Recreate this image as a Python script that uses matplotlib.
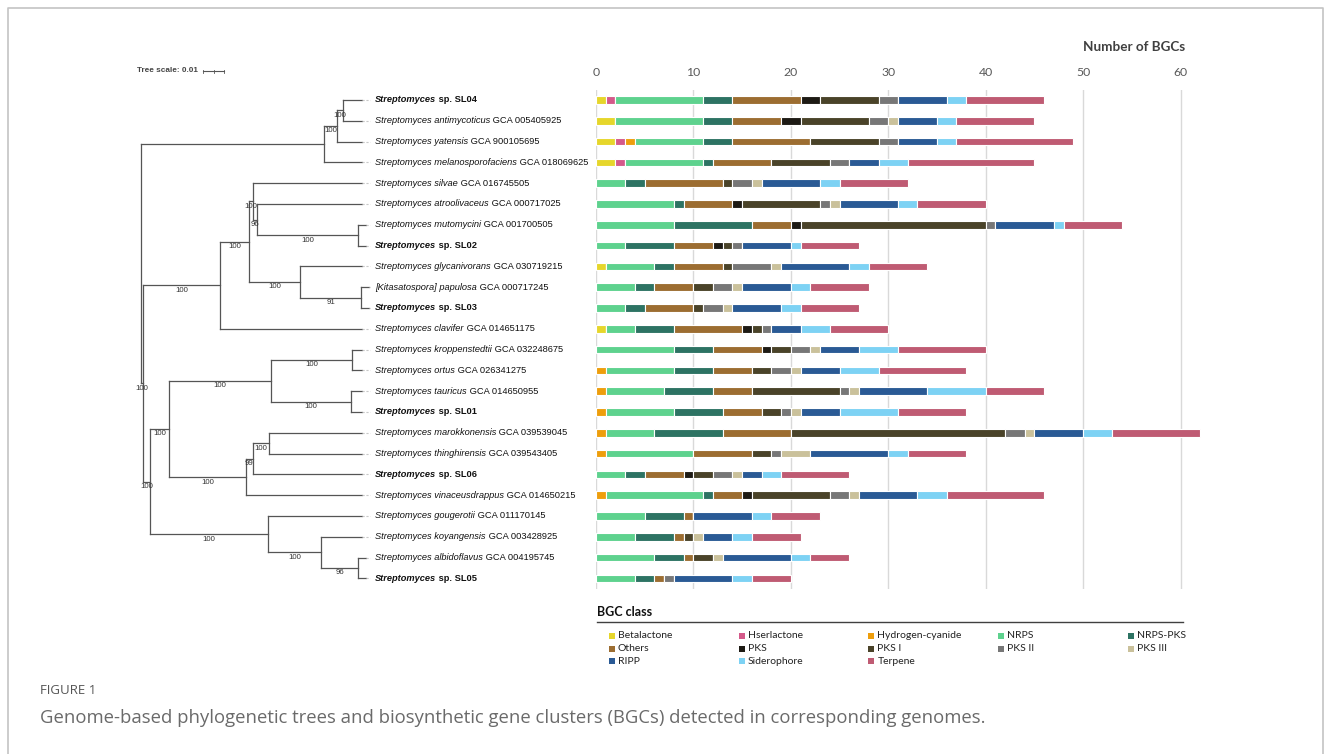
import numpy as np
import matplotlib
matplotlib.use("Agg")
from matplotlib import pyplot as plt

# ============= data =============

classes = ['Betalactone', 'Hserlactone', 'Hydrogen-cyanide', 'NRPS', 'NRPS-PKS',
           'Others', 'PKS', 'PKS I', 'PKS II', 'PKS III', 'RIPP', 'Siderophore', 'Terpene']
class_colors = ['#E6D62B', '#D4598A', '#EE9E0C', '#5ED28E', '#2D7363',
                '#9C6D31', '#1D1A14', '#4A4329', '#777777', '#CAC19B',
                '#2A5A95', '#7DD2F4', '#BF5B73']

# species label: (italic part, plain part, is our isolate)
species = [
    ('Streptomyces', 'sp. SL04', True),
    ('Streptomyces antimycoticus', 'GCA 005405925', False),
    ('Streptomyces yatensis', 'GCA 900105695', False),
    ('Streptomyces melanosporofaciens', 'GCA 018069625', False),
    ('Streptomyces silvae', 'GCA 016745505', False),
    ('Streptomyces atroolivaceus', 'GCA 000717025', False),
    ('Streptomyces mutomycini', 'GCA 001700505', False),
    ('Streptomyces', 'sp. SL02', True),
    ('Streptomyces glycanivorans', 'GCA 030719215', False),
    ('[Kitasatospora] papulosa', 'GCA 000717245', False),
    ('Streptomyces', 'sp. SL03', True),
    ('Streptomyces clavifer', 'GCA 014651175', False),
    ('Streptomyces kroppenstedtii', 'GCA 032248675', False),
    ('Streptomyces ortus', 'GCA 026341275', False),
    ('Streptomyces tauricus', 'GCA 014650955', False),
    ('Streptomyces', 'sp. SL01', True),
    ('Streptomyces marokkonensis', 'GCA 039539045', False),
    ('Streptomyces thinghirensis', 'GCA 039543405', False),
    ('Streptomyces', 'sp. SL06', True),
    ('Streptomyces vinaceusdrappus', 'GCA 014650215', False),
    ('Streptomyces gougerotii', 'GCA 011170145', False),
    ('Streptomyces koyangensis', 'GCA 003428925', False),
    ('Streptomyces albidoflavus', 'GCA 004195745', False),
    ('Streptomyces', 'sp. SL05', True),
]

# number of BGCs per class, one value per genome (same order as species)
betalactone = [1, 2, 2, 2, 0, 0, 0, 0, 1, 0, 0, 1, 0, 0, 0, 0, 0, 0, 0, 0, 0, 0, 0, 0]
hserlactone = [1, 0, 1, 1, 0, 0, 0, 0, 0, 0, 0, 0, 0, 0, 0, 0, 0, 0, 0, 0, 0, 0, 0, 0]
hcn         = [0, 0, 1, 0, 0, 0, 0, 0, 0, 0, 0, 0, 0, 1, 1, 1, 1, 1, 0, 1, 0, 0, 0, 0]
nrps        = [9, 9, 7, 8, 3, 8, 8, 3, 5, 4, 3, 3, 8, 7, 6, 7, 5, 9, 3, 10, 5, 4, 6, 4]
nrps_pks    = [3, 3, 3, 1, 2, 1, 8, 5, 2, 2, 2, 4, 4, 4, 5, 5, 7, 0, 2, 1, 4, 4, 3, 2]
others      = [7, 5, 8, 6, 8, 5, 4, 4, 5, 4, 5, 7, 5, 4, 4, 4, 7, 6, 4, 3, 1, 1, 1, 1]
pks         = [2, 2, 0, 0, 0, 1, 1, 1, 0, 0, 0, 1, 1, 0, 0, 0, 0, 0, 1, 1, 0, 0, 0, 0]
pks_1       = [6, 7, 7, 6, 1, 8, 19, 1, 1, 2, 1, 1, 2, 2, 9, 2, 22, 2, 2, 8, 0, 1, 2, 0]
pks_2       = [2, 2, 2, 2, 2, 1, 1, 1, 4, 2, 2, 1, 2, 2, 1, 1, 2, 1, 2, 2, 0, 0, 0, 1]
pks_3       = [0, 1, 0, 0, 1, 1, 0, 0, 1, 1, 1, 0, 1, 1, 1, 1, 1, 3, 1, 1, 0, 1, 1, 0]
ripp        = [5, 4, 4, 3, 6, 6, 6, 5, 7, 5, 5, 3, 4, 4, 7, 4, 5, 8, 2, 6, 6, 3, 7, 6]
siderophore = [2, 2, 2, 3, 2, 2, 1, 1, 2, 2, 2, 3, 4, 4, 6, 6, 3, 2, 2, 3, 2, 2, 2, 2]
terpene     = [8, 8, 12, 13, 7, 7, 6, 6, 6, 6, 6, 6, 9, 9, 6, 7, 9, 6, 7, 10, 5, 5, 4, 4]

class_counts = [betalactone, hserlactone, hcn, nrps, nrps_pks, others, pks,
                pks_1, pks_2, pks_3, ripp, siderophore, terpene]

xticks = [0, 10, 20, 30, 40, 50, 60]

# tree: internal node -> (node depth in px, children, bootstrap); ints are leaves (rows)
tree_nodes = {
    'root': (141.0, ['A', 'N1'], None),
    'A':    (324.0, ['A1', 3], None),
    'A1':   (336.7, ['A2', 2], '100'),
    'A2':   (342.7, [0, 1], '100'),
    'N1':   (143.3, ['B', 'N2'], '100'),
    'B':    (220.0, ['B1', 11], '100'),
    'B1':   (248.7, ['B2', 'B4'], '100'),
    'B2':   (253.3, [4, 'B3'], '100'),
    'B3':   (257.3, [5, 'B3a'], '96'),
    'B3a':  (358.3, [6, 7], '100'),
    'B4':   (300.0, [8, 'B5'], '100'),
    'B5':   (361.3, [9, 10], '91'),
    'N2':   (150.0, ['C', 'D'], '100'),
    'C':    (169.3, ['C1', 'C3'], '100'),
    'C1':   (270.7, ['C1a', 'C1b'], '100'),
    'C1a':  (352.3, [12, 13], '100'),
    'C1b':  (350.7, [14, 15], '100'),
    'C3':   (245.7, ['C3a', 19], '100'),
    'C3a':  (252.7, ['C3b', 18], '99'),
    'C3b':  (269.3, [16, 17], '100'),
    'D':    (267.7, [20, 'D1'], '100'),
    'D1':   (321.3, [21, 'D2'], '100'),
    'D2':   (357.7, [22, 23], '96'),
}

# ============= figure & layout (pixel based) =============

W, H = 1331, 754
fig = plt.figure(figsize=(W / 100, H / 100), dpi=100)

ax = fig.add_axes([0, 0, 1, 1])
ax.set_xlim(0, W)
ax.set_ylim(H, 0)
ax.axis('off')

n_rows = len(species)
row_top = 89.6
row_step = 20.8
row_y = [row_top + row_step * (i + 0.5) for i in range(n_rows)]

# outer frame
ax.plot([8, 8, 1323, 1323], [H, 8, 8, H], color='#c4c4c4', lw=1.2, solid_capstyle='butt')

# ============= tree =============

tree_color = '#555555'
leaf_end = 362.0


def node_y(n):
    if isinstance(n, int):
        return row_y[n]
    ys = [node_y(c) for c in tree_nodes[n][1]]
    return (min(ys) + max(ys)) / 2


def draw_node(n, parent_x):
    y = node_y(n)
    if isinstance(n, int):
        ax.plot([parent_x, max(parent_x + 8, leaf_end)], [y, y], color=tree_color, lw=0.9)
        # faint leader up to the label
        ax.plot([max(parent_x + 8, leaf_end), 370], [y, y], color='#c8c8c8', lw=0.8,
                ls=(0, (2, 1.5)))
        return
    x, children, support = tree_nodes[n]
    if parent_x is not None:
        ax.plot([parent_x, x], [y, y], color=tree_color, lw=0.9)
        if support:
            ax.text((parent_x + x) / 2, y + 5, support, ha='center', va='center',
                    fontsize=5.6, color='#333333', family='Liberation Sans')
    ys = [node_y(c) for c in children]
    ax.plot([x, x], [min(ys), max(ys)], color=tree_color, lw=0.9)
    for c in children:
        draw_node(c, x)


draw_node('root', None)

# tree scale
ax.text(137, 71, 'Tree scale: 0.01', ha='left', va='center', fontsize=5.9,
        fontweight='bold', color='#444444', family='Liberation Sans')
ax.plot([203, 224], [71, 71], color='#555555', lw=0.8)
for tx in [203, 213.5, 224]:
    ax.plot([tx, tx], [69.5, 72.5], color='#555555', lw=0.6)

# species labels
for i, (ital, plain, ours) in enumerate(species):
    weight = 'bold' if ours else 'normal'
    t1 = ax.text(375, row_y[i], ital, ha='left', va='center', fontsize=6.7,
                 style='italic', fontweight=weight, family='Liberation Sans', color='#111111')
    ax.annotate(' ' + plain, xy=(1, 0), xycoords=t1, ha='left', va='bottom',
                fontsize=6.7, fontweight=weight, family='Liberation Sans', color='#111111')

# ============= stacked bars =============

px_per_unit = 9.742
x_max = 63
bx = fig.add_axes([596 / W, (H - (row_top + row_step * n_rows)) / H,
                   x_max * px_per_unit / W, row_step * n_rows / H])
bx.set_xlim(0, x_max)
bx.set_ylim(n_rows - 0.5, -0.5)

rows = np.arange(n_rows)
left = np.zeros(n_rows)
for cls, counts, col in zip(classes, class_counts, class_colors):
    vals = np.array(counts, dtype=float)
    bx.barh(rows, vals, left=left, height=0.36, color=col, edgecolor='white',
            linewidth=0.8, zorder=3)
    left += vals

bx.set_xticks(xticks)
bx.set_yticks([])
bx.xaxis.tick_top()
bx.tick_params(axis='x', length=0, pad=8, labelsize=8.8, labelcolor='#595959')
for lab in bx.get_xticklabels():
    lab.set_family('Lato')
bx.grid(axis='x', color='#d9d9d9', lw=1, zorder=0)
for s in bx.spines.values():
    s.set_visible(False)

ax.text(1134, 47, 'Number of BGCs', ha='center', va='center', fontsize=9.7,
        fontweight='bold', color='#404040', family='Lato')

# ============= legend =============

ax.text(597, 612, 'BGC class', ha='left', va='center', fontsize=9,
        fontweight='bold', color='#111111', family='Lato')
ax.plot([597, 1183], [622, 622], color='#404040', lw=1)
for k, (cls, col) in enumerate(zip(classes, class_colors)):
    r, c = divmod(k, 5)
    lx = 612 + 129.7 * c
    ly = 636 + 12.6 * r
    ax.scatter([lx], [ly], marker='s', s=14, color=col, linewidths=0)
    ax.text(lx + 6, ly, cls, ha='left', va='center', fontsize=7.5,
            color='#222222', family='Lato')

# ============= caption =============

ax.text(40, 690, 'FIGURE 1', ha='left', va='center', fontsize=9.5,
        color='#555555', family='Open Sans')
ax.text(40, 718, 'Genome-based phylogenetic trees and biosynthetic gene clusters (BGCs) '
        'detected in corresponding genomes.', ha='left', va='center', fontsize=13.3,
        color='#6a6a6a', family='Open Sans')

fig.savefig('out.png', dpi=100)
